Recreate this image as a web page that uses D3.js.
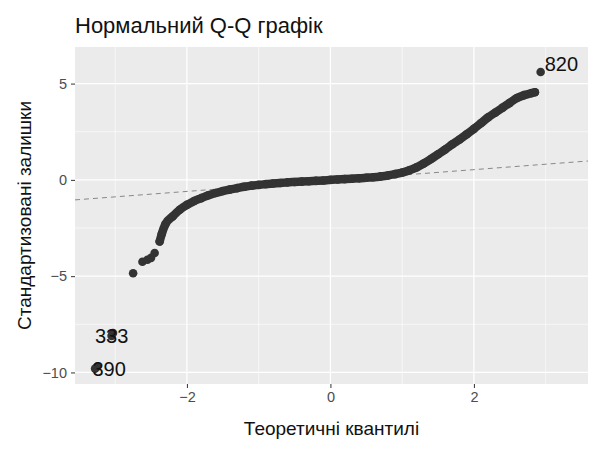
<!DOCTYPE html><html><head><meta charset="utf-8"><script src="https://cdn.jsdelivr.net/npm/d3@7"></script>
<style>body{margin:0;background:#fff}text{font-family:"Liberation Sans",Arial,sans-serif}</style></head><body><svg id="c" width="600" height="450"></svg><script>
const theoretical=[-3.28,-3.25,-3.05,-3.03,-2.75,-2.62,-2.55,-2.5,-2.45,-2.38,-2.35,-2.3,-2.2,-2.1,-2.0,-1.9,-1.8,-1.7,-1.6,-1.5,-1.4,-1.3,-1.2,-1.1,-1.0,-0.9,-0.8,-0.7,-0.6,-0.5,-0.4,-0.3,-0.2,-0.1,0,0.1,0.2,0.3,0.4,0.5,0.6,0.7,0.8,0.9,1.0,1.1,1.2,1.3,1.4,1.5,1.6,1.7,1.8,1.9,2.0,2.1,2.2,2.3,2.4,2.5,2.6,2.7,2.8,2.85,2.93];
const residuals=[-9.8,-9.7,-8.1,-7.95,-4.85,-4.25,-4.15,-4.05,-3.8,-3.2,-2.8,-2.3,-1.9,-1.55,-1.3,-1.1,-0.95,-0.8,-0.68,-0.58,-0.5,-0.43,-0.36,-0.3,-0.26,-0.22,-0.19,-0.16,-0.13,-0.11,-0.09,-0.07,-0.05,-0.03,0,0.02,0.04,0.06,0.08,0.11,0.14,0.18,0.23,0.3,0.38,0.5,0.65,0.85,1.08,1.33,1.58,1.85,2.1,2.37,2.65,2.95,3.25,3.5,3.75,4.0,4.25,4.4,4.5,4.55,5.6];
const xTicks=[-2,0,2], yTicks=[-10,-5,0,5];
const xMinor=[-3,-1,1,3], yMinor=[-7.5,-2.5,2.5];
const lineX=[-3.56,3.59], lineY=[-1.04,0.98];
const svg=d3.select("#c");
const L=75,R=588,T=47,B=384;
const x=d3.scaleLinear().domain([-3.56,3.59]).range([L,R]);
const y=d3.scaleLinear().domain([-10.6,6.9]).range([B,T]);
svg.append("rect").attr("x",L).attr("y",T).attr("width",R-L).attr("height",B-T).attr("fill","#ebebeb");
const g=svg.append("g");
xMinor.forEach(v=>g.append("line").attr("x1",x(v)).attr("x2",x(v)).attr("y1",T).attr("y2",B).attr("stroke","#fff").attr("stroke-width",0.6));
yMinor.forEach(v=>g.append("line").attr("y1",y(v)).attr("y2",y(v)).attr("x1",L).attr("x2",R).attr("stroke","#fff").attr("stroke-width",0.6));
xTicks.forEach(v=>g.append("line").attr("x1",x(v)).attr("x2",x(v)).attr("y1",T).attr("y2",B).attr("stroke","#fff").attr("stroke-width",1.3));
yTicks.forEach(v=>g.append("line").attr("y1",y(v)).attr("y2",y(v)).attr("x1",L).attr("x2",R).attr("stroke","#fff").attr("stroke-width",1.3));
const axStyle=a=>{a.select(".domain").remove();a.selectAll("line").attr("stroke","#333");a.selectAll("text").attr("fill","#4d4d4d").style("font-size","14.5px");};
svg.append("g").attr("transform",`translate(0,${B})`).call(d3.axisBottom(x).tickValues(xTicks).tickSize(4).tickPadding(4)).call(axStyle);
svg.append("g").attr("transform",`translate(${L},0)`).call(d3.axisLeft(y).tickValues(yTicks).tickSize(4).tickPadding(4)).call(axStyle);
svg.append("line").attr("x1",x(lineX[0])).attr("y1",y(lineY[0])).attr("x2",x(lineX[1])).attr("y2",y(lineY[1])).attr("stroke","#888").attr("stroke-dasharray","5,4").attr("stroke-width",1);
const pts=theoretical.map((d,i)=>[d,residuals[i]]);
const body=pts.filter(p=>p[0]>=-2.38&&p[0]<=2.85);
svg.append("path").attr("d",d3.line().x(p=>x(p[0])).y(p=>y(p[1])).curve(d3.curveMonotoneX)(body)).attr("fill","none").attr("stroke","#333").attr("stroke-width",8.5).attr("stroke-linecap","round");
svg.append("g").selectAll("circle").data(pts).join("circle").attr("cx",p=>x(p[0])).attr("cy",p=>y(p[1])).attr("r",4.3).attr("fill","#333");
svg.append("text").attr("x",x(-3.05)).attr("y",y(-8.1)+7).attr("text-anchor","middle").attr("font-size",20).attr("fill","#111").text("333");
svg.append("text").attr("x",x(-3.28)+14).attr("y",y(-9.8)+7).attr("text-anchor","middle").attr("font-size",20).attr("fill","#111").text("390");
svg.append("text").attr("x",x(2.93)+4).attr("y",y(5.6)-1).attr("font-size",20).attr("fill","#111").text("820");
svg.append("text").attr("x",L).attr("y",33).attr("font-size",22).attr("fill","#111").text("Нормальний Q-Q графік");
svg.append("text").attr("x",(L+R)/2).attr("y",435).attr("text-anchor","middle").attr("font-size",19).attr("fill","#111").text("Теоретичні квантилі");
svg.append("text").attr("transform",`translate(31,${(T+B)/2}) rotate(-90)`).attr("text-anchor","middle").attr("font-size",19).attr("fill","#111").text("Стандартизовані залишки");
</script></body></html>
